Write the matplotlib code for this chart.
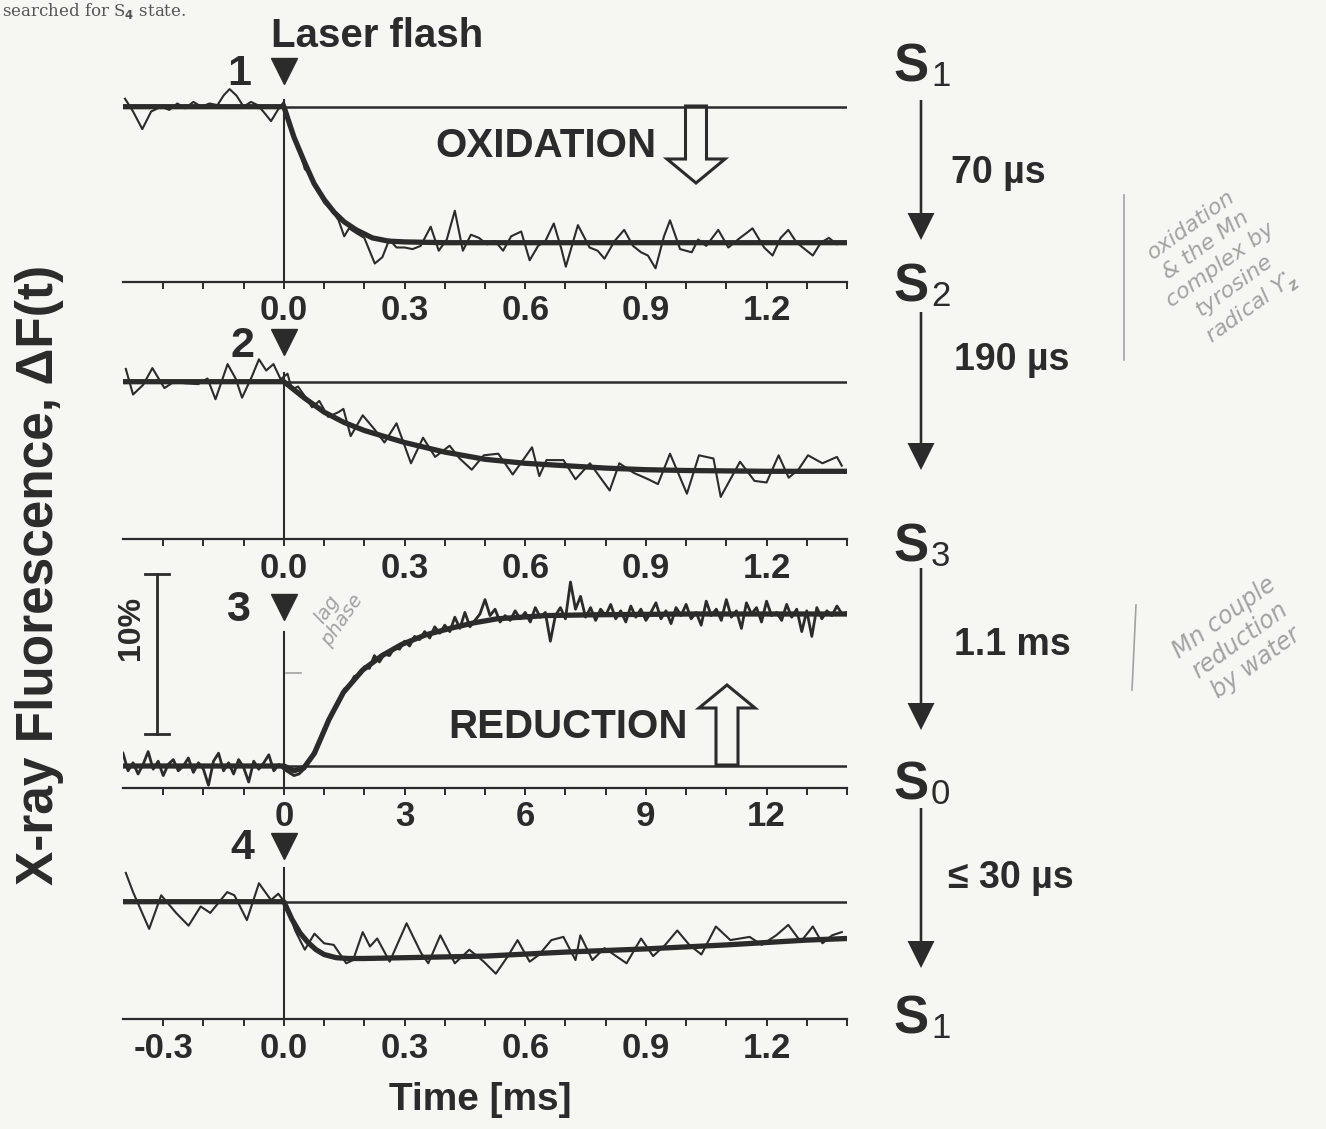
import numpy as np
import matplotlib
matplotlib.use('Agg')
import matplotlib.pyplot as plt
from matplotlib.patches import FancyArrow

W, H = 1326, 1129
INK = '#2b2b2b'
PAPER = '#f6f6f3'
PENCIL = '#a2a2a2'
PX_PER_PCT = 16.0   # the 10 % bar is 160 px tall

plt.rcParams['font.family'] = ['Liberation Sans', 'DejaVu Sans']
plt.rcParams['font.weight'] = 'bold'

# ---- trace 1: S1 -> S2 (time in ms, dF in %) ----
p1_t = [-0.395, -0.375, -0.352, -0.330, -0.305, -0.285, -0.265, -0.245, -0.225, -0.205,
        -0.185, -0.165, -0.150, -0.135, -0.118, -0.100, -0.082, -0.065, -0.048, -0.032,
        -0.015, 0.000, 0.020, 0.040, 0.052, 0.065, 0.080, 0.100, 0.120, 0.136,
        0.150, 0.162, 0.180, 0.200, 0.226, 0.245, 0.262, 0.280, 0.300, 0.320,
        0.340, 0.365, 0.385, 0.405, 0.425, 0.445, 0.465, 0.485, 0.505, 0.525,
        0.545, 0.565, 0.590, 0.611, 0.632, 0.650, 0.671, 0.690, 0.701, 0.731,
        0.760, 0.780, 0.797, 0.822, 0.846, 0.868, 0.888, 0.905, 0.924, 0.945,
        0.960, 0.985, 1.014, 1.030, 1.050, 1.080, 1.105, 1.134, 1.150, 1.165,
        1.194, 1.215, 1.235, 1.254, 1.275, 1.295, 1.315, 1.335, 1.355, 1.375, 1.387]
p1_y = [0.5, -0.3, -1.4, -0.3, 0.0, -0.2, 0.2, -0.1, 0.3, 0.0,
        0.2, 0.1, 0.7, 1.1, 0.7, 0.0, 0.3, 0.1, -0.4, -0.9,
        -0.2, 0.3, -1.6, -2.8, -3.9, -4.2, -4.9, -6.0, -6.5, -7.1,
        -8.1, -7.6, -7.9, -8.2, -9.8, -9.4, -8.3, -8.8, -8.8, -8.9,
        -8.7, -7.5, -9.0, -8.3, -6.5, -9.0, -8.0, -8.2, -8.6, -8.4,
        -9.0, -8.1, -7.8, -9.6, -8.7, -8.4, -7.3, -8.9, -10.0, -7.4,
        -8.8, -9.0, -9.5, -8.4, -7.7, -8.7, -9.1, -9.3, -10.1, -8.1,
        -7.1, -8.9, -9.1, -8.3, -8.7, -7.7, -8.8, -8.2, -7.9, -7.6,
        -8.8, -9.3, -8.2, -7.7, -8.5, -8.9, -9.3, -8.5, -8.2, -8.6, -8.5]
fit1_t = [-0.4, 0.0, 0.025, 0.05, 0.075, 0.1, 0.125, 0.15, 0.18, 0.22, 0.26, 0.3, 0.4, 1.4]
fit1_y = [0.0, 0.0, -1.9, -3.4, -4.8, -5.8, -6.6, -7.2, -7.7, -8.2, -8.4, -8.45, -8.5, -8.5]

# ---- trace 2: S2 -> S3 ----
p2_t = [-0.393, -0.375, -0.350, -0.327, -0.297, -0.273, -0.245, -0.213, -0.190, -0.170,
        -0.140, -0.120, -0.104, -0.080, -0.062, -0.044, -0.026, -0.008, 0.009,
        0.020, 0.035, 0.052, 0.070, 0.088, 0.110, 0.136, 0.148, 0.166, 0.196,
        0.226, 0.250, 0.280, 0.316, 0.346, 0.376, 0.412, 0.437, 0.467, 0.497,
        0.533, 0.569, 0.617, 0.635, 0.653, 0.695, 0.725, 0.761, 0.810, 0.834,
        0.870, 0.906, 0.930, 0.960, 1.002, 1.032, 1.068, 1.086, 1.134, 1.170,
        1.200, 1.230, 1.255, 1.279, 1.303, 1.339, 1.375, 1.387]
p2_y = [0.8, -0.8, -0.2, 0.85, -0.4, 0.0, -0.1, -0.15, 0.2, -1.1,
        1.1, 0.2, -1.0, 0.3, 1.4, 0.7, 1.1, 0.15, 0.5,
        -0.5, -0.3, -0.9, -1.6, -1.2, -2.2, -1.9, -1.7, -3.4, -2.1,
        -3.0, -3.8, -2.6, -5.1, -3.5, -4.7, -4.0, -4.8, -5.5, -4.6,
        -4.5, -5.8, -4.1, -5.9, -4.9, -4.9, -6.1, -5.1, -6.8, -5.1,
        -5.7, -6.1, -6.4, -4.5, -7.0, -4.6, -4.8, -7.2, -5.0, -6.2,
        -6.3, -4.6, -6.0, -5.5, -4.6, -5.1, -4.7, -5.25]
fit2_t = [-0.4, 0.0, 0.05, 0.1, 0.15, 0.2, 0.3, 0.4, 0.5, 0.6, 0.7, 0.8, 0.9, 1.0, 1.2, 1.4]
fit2_y = [0.0, 0.0, -1.0, -1.9, -2.55, -3.05, -3.8, -4.4, -4.85, -5.1, -5.25, -5.4, -5.5, -5.55, -5.6, -5.6]

# ---- trace 3: S3 -> S0 (ms scale, sampled every 0.125 ms from -4 ms) ----
p3_t0, p3_dt = -4.0, 0.125
p3_y = [0.8, -0.3, 0.2, -0.5, 0.1, 0.9, -0.2, 0.3, -0.6, 0.1,
        0.4, -0.3, 0.0, 0.5, -0.4, 0.2, -0.2, -1.2, 0.3, 0.8,
        -0.3, 0.2, -0.5, 0.4, -0.1, -1.0, 0.3, -0.2, 0.2, 0.7,
        -0.3, 0.1, -0.2,
        -0.4, -0.6, -0.5, -0.2, 0.3, 0.9, 1.6, 2.3, 2.8, 3.6,
        4.1, 4.8, 5.0, 5.6, 5.7, 6.2, 6.1, 6.9,
        6.5, 7.0, 6.9, 7.4, 7.3, 7.8, 7.5, 8.1, 7.9, 8.4,
        8.0, 8.7, 8.3, 8.8, 8.4, 9.3, 8.6, 9.6, 8.7, 9.1,
        9.5, 10.4, 9.4, 9.8, 9.0, 9.4,
        9.1, 9.7, 9.2, 9.6, 9.0, 9.9, 9.3, 9.6, 7.8, 9.4,
        9.9, 9.2, 11.5, 9.8, 10.6, 9.3, 9.9, 9.1, 9.8, 9.4,
        10.1, 9.2, 9.7, 9.0, 10.0, 9.3, 9.8, 9.1, 9.6, 10.2,
        9.2, 9.7, 8.9, 9.9, 9.4, 10.1, 9.2, 9.6, 8.8, 10.3,
        9.4, 9.8, 9.1, 10.4, 9.3, 9.7, 8.6, 10.2, 9.5, 9.9,
        9.0, 10.3, 9.4, 9.6, 9.1, 10.1, 9.3, 9.8, 8.4, 9.7,
        8.1, 9.9, 9.2, 9.7, 9.4, 10.0, 9.5, 9.6]
fit3_t = [-4.0, 0.0, 0.25, 0.5, 0.76, 1.12, 1.48, 1.96, 2.44, 2.93, 3.53, 4.13, 4.73, 5.3, 6.5, 7.7, 10.0, 14.0]
fit3_y = [0.0, 0.0, -0.3, -0.1, 0.8, 2.9, 4.6, 6.0, 6.9, 7.6, 8.2, 8.6, 8.95, 9.2, 9.4, 9.45, 9.5, 9.5]

# ---- trace 4: S0 -> S1 ----
p4_t = [-0.393, -0.375, -0.335, -0.305, -0.268, -0.237, -0.207, -0.183, -0.141, -0.123,
        -0.092, -0.062, -0.032, -0.014, 0.004,
        0.028, 0.052, 0.076, 0.100, 0.124, 0.155, 0.172, 0.196, 0.214, 0.232,
        0.263, 0.305, 0.341, 0.359, 0.389, 0.425, 0.461, 0.497, 0.527, 0.557,
        0.581, 0.611, 0.635, 0.665, 0.695, 0.725, 0.737, 0.767, 0.797, 0.852,
        0.888, 0.918, 0.948, 0.978, 1.008, 1.038, 1.074, 1.110, 1.158, 1.188,
        1.224, 1.254, 1.285, 1.315, 1.339, 1.363, 1.387]
p4_y = [1.8, 0.6, -1.7, 0.4, -0.7, -1.5, -0.3, -0.7, 0.6, 0.4,
        -1.15, 1.15, 0.1, 0.5, -0.1,
        -1.8, -3.0, -2.0, -2.6, -2.7, -3.85, -3.65, -1.9, -2.8, -2.3,
        -3.75, -1.35, -3.2, -3.85, -2.1, -3.85, -3.0, -3.75, -4.5, -3.4,
        -2.4, -3.75, -3.3, -2.4, -2.2, -3.65, -2.1, -3.65, -2.9, -3.85,
        -2.3, -3.4, -2.7, -1.8, -2.7, -3.3, -1.55, -2.4, -2.2, -2.7,
        -2.1, -1.45, -2.5, -1.55, -2.6, -2.1, -1.9]
fit4_t = [-0.4, 0.0, 0.02, 0.04, 0.06, 0.08, 0.10, 0.13, 0.16, 0.2, 0.3, 0.5, 0.7, 0.9, 1.1, 1.3, 1.4]
fit4_y = [0.0, 0.0, -1.1, -1.95, -2.55, -3.0, -3.3, -3.5, -3.55, -3.55, -3.5, -3.4, -3.15, -2.95, -2.7, -2.4, -2.3]

us_ticks = [-0.3, 0.0, 0.3, 0.6, 0.9, 1.2]
us_minor = [-0.3, -0.2, -0.1, 0.0, 0.1, 0.2, 0.3, 0.4, 0.5, 0.6, 0.7, 0.8, 0.9, 1.0, 1.1, 1.2, 1.3, 1.4]
ms_ticks = [0, 3, 6, 9, 12]
ms_minor = [-3, -2, -1, 0, 1, 2, 3, 4, 5, 6, 7, 8, 9, 10, 11, 12, 13, 14]

states = ['S', 'S', 'S', 'S', 'S']
state_sub = ['1', '2', '3', '0', '1']
rates = ['70 µs', '190 µs', '1.1 ms', '≤ 30 µs']

fig = plt.figure(figsize=(W / 100, H / 100), dpi=100, facecolor=PAPER)

X0, X1 = 123, 847


def make_panel(top, base, axis, xlim, vtop):
    ax = fig.add_axes([X0 / W, 1 - axis / H, (X1 - X0) / W, (axis - top) / H])
    ax.set_xlim(*xlim)
    ax.set_ylim(-(axis - base) / PX_PER_PCT, (base - top) / PX_PER_PCT)
    ax.patch.set_alpha(0)
    for s in ['top', 'right', 'left']:
        ax.spines[s].set_visible(False)
    ax.spines['bottom'].set_linewidth(1.6)
    ax.spines['bottom'].set_color(INK)
    ax.set_yticks([])
    ax.axhline(0, color=INK, lw=1.8, zorder=2)
    ax.plot([0, 0], [(base - vtop) / PX_PER_PCT, -(axis - base) / PX_PER_PCT],
            color=INK, lw=1.5, zorder=2)
    ax.tick_params(which='both', direction='out', length=5, width=1.4,
                   colors=INK, labelsize=25, pad=4)
    return ax


def ticks(ax, major, labels, minor):
    ax.set_xticks(minor, minor=True)
    ax.set_xticks(major)
    ax.set_xticklabels(labels)


ax1 = make_panel(40, 106.7, 282, (-0.4, 1.4), 100)
ax2 = make_panel(318, 381.7, 539, (-0.4, 1.4), 373)
ax3 = make_panel(560, 766, 788, (-4.0, 14.0), 632)
ax4 = make_panel(858, 901.7, 1019, (-0.4, 1.4), 868)

ticks(ax1, us_ticks[1:], ['%.1f' % v for v in us_ticks[1:]], us_minor)
ticks(ax2, us_ticks[1:], ['%.1f' % v for v in us_ticks[1:]], us_minor)
ticks(ax3, ms_ticks, [str(v) for v in ms_ticks], ms_minor)
ticks(ax4, us_ticks, ['%.1f' % v for v in us_ticks], us_minor)

p3_t = p3_t0 + p3_dt * np.arange(len(p3_y))
for ax, t, y, ft, fy, lw in [(ax1, p1_t, p1_y, fit1_t, fit1_y, 1.5),
                             (ax2, p2_t, p2_y, fit2_t, fit2_y, 1.5),
                             (ax3, p3_t, p3_y, fit3_t, fit3_y, 2.0),
                             (ax4, p4_t, p4_y, fit4_t, fit4_y, 1.5)]:
    ax.plot(t, y, color=INK, lw=lw, zorder=3)
    ax.plot(ft, fy, color=INK, lw=3.8, solid_capstyle='round', zorder=4)

# 10 % scale bar in panel 3
bx = -4.0 + (157 - X0) / ((X1 - X0) / 18.0)
cap = 0.3
ax3.plot([bx, bx], [2.0, 12.0], color=INK, lw=2.0, clip_on=False)
for v in (2.0, 12.0):
    ax3.plot([bx - cap, bx + cap], [v, v], color=INK, lw=2.0, clip_on=False)

# overlay in pixel coordinates for annotations
ov = fig.add_axes([0, 0, 1, 1], zorder=10)
ov.set_xlim(0, W)
ov.set_ylim(H, 0)
ov.axis('off')
ov.patch.set_alpha(0)

ov.text(2, 1, 'searched for S$_4$ state.', family='DejaVu Serif', fontweight='normal',
        fontsize=12, color='#555555', ha='left', va='top')

ov.text(271, 36, 'Laser flash', fontsize=29, color=INK, ha='left', va='center')
for num, x, y, ty in [('1', 239, 74, 71), ('2', 242, 346, 342),
                      ('3', 238, 610, 607), ('4', 242, 848, 846)]:
    ov.text(x, y, num, fontsize=31, color=INK, ha='center', va='center')
    ov.plot(284, ty, marker='v', ms=19, color=INK)

ov.text(40, 575, 'X-ray Fluorescence, ΔF(t)', fontsize=37, color=INK,
        rotation=90, ha='center', va='center')
ov.text(480, 1100, 'Time [ms]', fontsize=28, color=INK, ha='center', va='center')
ov.text(131, 628, '10%', fontsize=23, color=INK, rotation=90, ha='center', va='center')

ov.text(546, 146, 'OXIDATION', fontsize=29, color=INK, ha='center', va='center')
ov.add_patch(FancyArrow(696, 106, 0, 77, width=21, head_width=58, head_length=24,
                        length_includes_head=True, fill=False, ec=INK, lw=2.2))
ov.text(568, 727, 'REDUCTION', fontsize=29, color=INK, ha='center', va='center')
ov.add_patch(FancyArrow(727, 765, 0, -80, width=22, head_width=56, head_length=23,
                        length_includes_head=True, fill=False, ec=INK, lw=2.2))

# S-state cycle on the right
state_y = [68, 288, 548, 785, 1020]
for s, sub, y in zip(states, state_sub, state_y):
    ov.text(911, y, s, fontsize=38, color=INK, ha='center', va='center')
    ov.text(931, y + 9, sub, fontsize=25, fontweight='normal', color=INK,
            ha='left', va='center')
arrow_span = [(100, 240), (312, 470), (568, 730), (808, 968)]
rate_pos = [(951, 173), (954, 360), (954, 645), (948, 878)]
for (a, b), r, (rx, ry) in zip(arrow_span, rates, rate_pos):
    ov.add_patch(FancyArrow(921, a, 0, b - a, width=2.6, head_width=27, head_length=27,
                            length_includes_head=True, color=INK, lw=0))
    ov.text(rx, ry, r, fontsize=27, color=INK, ha='left', va='center')

# pencil notes
ov.plot([1124, 1124], [195, 360], color=PENCIL, lw=1.2)
ov.text(1222, 268, 'oxidation\n& the Mn\ncomplex by\ntyrosine\nradical Y$^{\\bullet}_{z}$',
        family='DejaVu Sans', fontweight='normal', style='italic', fontsize=16,
        color=PENCIL, rotation=36, ha='center', va='center', linespacing=1.3)
ov.plot([1136, 1132], [605, 690], color=PENCIL, lw=1.2)
ov.text(1240, 640, 'Mn couple\nreduction\nby water',
        family='DejaVu Sans', fontweight='normal', style='italic', fontsize=17,
        color=PENCIL, rotation=36, ha='center', va='center', linespacing=1.2)
ov.plot([286, 301], [673, 673], color=PENCIL, lw=1.2)
ov.text(335, 615, 'lag\nphase', family='DejaVu Sans', fontweight='normal',
        style='italic', fontsize=14, color=PENCIL, rotation=55,
        ha='center', va='center', linespacing=0.95)

fig.savefig('out.png', dpi=100, facecolor=PAPER)
